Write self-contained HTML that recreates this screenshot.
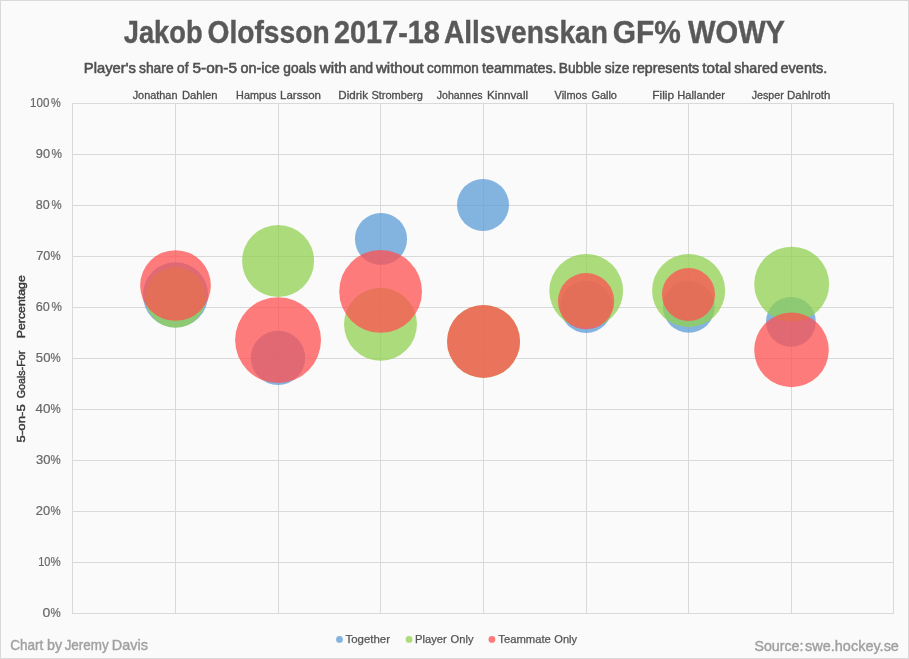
<!DOCTYPE html>
<html lang="en"><head><meta charset="utf-8"><title>Jakob Olofsson 2017-18 Allsvenskan GF% WOWY</title>
<style>
html,body{margin:0;padding:0;background:#fafafa;}
body{width:909px;height:659px;overflow:hidden;}
svg{display:block;}
text{font-family:"Liberation Sans",sans-serif;}
.title{font-weight:bold;font-size:30.5px;fill:#595959;stroke:#595959;stroke-width:0.4px;}
.sub{font-size:14.2px;fill:#505050;stroke:#505050;stroke-width:0.55px;}
.cat{font-size:11px;fill:#4d4d4d;stroke:#4d4d4d;stroke-width:0.3px;}
.tick{font-size:11.9px;fill:#686868;stroke:#686868;stroke-width:0.2px;}
.ytitle{font-size:11.3px;fill:#3a3a3a;stroke:#3a3a3a;stroke-width:0.45px;}
.leg{font-size:11px;fill:#555;stroke:#555;stroke-width:0.25px;}
.foot{font-size:14.3px;fill:#a0a0a0;stroke:#a0a0a0;stroke-width:0.4px;}
</style></head><body>
<svg width="909" height="659" viewBox="0 0 909 659">
<rect x="0" y="0" width="909" height="659" fill="#fafafa"/>
<rect x="0.5" y="0.5" width="908" height="658" fill="none" stroke="#d9d9d9" stroke-width="1" shape-rendering="crispEdges"/>
<g stroke="#d9d9d9" stroke-width="1" shape-rendering="crispEdges">
<line x1="72" x2="894" y1="103.5" y2="103.5"/>
<line x1="72" x2="894" y1="154.5" y2="154.5"/>
<line x1="72" x2="894" y1="205.5" y2="205.5"/>
<line x1="72" x2="894" y1="256.5" y2="256.5"/>
<line x1="72" x2="894" y1="307.5" y2="307.5"/>
<line x1="72" x2="894" y1="358.5" y2="358.5"/>
<line x1="72" x2="894" y1="409.5" y2="409.5"/>
<line x1="72" x2="894" y1="460.5" y2="460.5"/>
<line x1="72" x2="894" y1="511.5" y2="511.5"/>
<line x1="72" x2="894" y1="562.5" y2="562.5"/>
<line x1="72" x2="894" y1="613.5" y2="613.5"/>
<line x1="72.5" x2="72.5" y1="103" y2="614"/>
<line x1="175.5" x2="175.5" y1="103" y2="614"/>
<line x1="278.5" x2="278.5" y1="103" y2="614"/>
<line x1="380.5" x2="380.5" y1="103" y2="614"/>
<line x1="483.5" x2="483.5" y1="103" y2="614"/>
<line x1="586.5" x2="586.5" y1="103" y2="614"/>
<line x1="688.5" x2="688.5" y1="103" y2="614"/>
<line x1="791.5" x2="791.5" y1="103" y2="614"/>
<line x1="893.5" x2="893.5" y1="103" y2="614"/>
</g>
<g fill="#5b9bd5" fill-opacity="0.75">
<circle cx="175.5" cy="294.9" r="32.6"/>
<circle cx="278.0" cy="357.9" r="27.15"/>
<circle cx="381.0" cy="239.0" r="26.1"/>
<circle cx="483.0" cy="204.9" r="26.0"/>
<circle cx="586.2" cy="306.9" r="26.0"/>
<circle cx="688.8" cy="306.9" r="25.9"/>
<circle cx="790.9" cy="321.8" r="24.9"/>
</g>
<g fill="#92d050" fill-opacity="0.75">
<circle cx="175.5" cy="297.4" r="30.3"/>
<circle cx="278.1" cy="261.05" r="36.0"/>
<circle cx="380.5" cy="324.3" r="36.45"/>
<circle cx="483.55" cy="341.4" r="36.5"/>
<circle cx="586.2" cy="290.85" r="36.9"/>
<circle cx="688.6" cy="290.6" r="36.55"/>
<circle cx="791.7" cy="284.2" r="37.45"/>
</g>
<g fill="#ff5050" fill-opacity="0.75">
<circle cx="175.5" cy="285.5" r="35.35"/>
<circle cx="278.05" cy="340.1" r="42.95"/>
<circle cx="380.6" cy="291.4" r="41.4"/>
<circle cx="483.55" cy="341.4" r="36.5"/>
<circle cx="586.1" cy="301.2" r="28.1"/>
<circle cx="688.5" cy="294.5" r="26.5"/>
<circle cx="791.5" cy="349.9" r="37.3"/>
</g>
<text class="title" y="42.7"><tspan x="123.79" textLength="78.74" lengthAdjust="spacingAndGlyphs">Jakob</tspan> <tspan x="207.55" textLength="122.06" lengthAdjust="spacingAndGlyphs">Olofsson</tspan> <tspan x="334.06" textLength="105.81" lengthAdjust="spacingAndGlyphs">2017-18</tspan> <tspan x="443.92" textLength="164.00" lengthAdjust="spacingAndGlyphs">Allsvenskan</tspan> <tspan x="612.87" textLength="68.06" lengthAdjust="spacingAndGlyphs">GF%</tspan> <tspan x="688.05" textLength="96.95" lengthAdjust="spacingAndGlyphs">WOWY</tspan></text>
<text class="sub" y="72.9"><tspan x="83.84" textLength="52.03" lengthAdjust="spacingAndGlyphs">Player's</tspan> <tspan x="138.98" textLength="34.65" lengthAdjust="spacingAndGlyphs">share</tspan> <tspan x="177.12" textLength="11.42" lengthAdjust="spacingAndGlyphs">of</tspan> <tspan x="192.59" textLength="44.38" lengthAdjust="spacingAndGlyphs">5-on-5</tspan> <tspan x="240.53" textLength="39.24" lengthAdjust="spacingAndGlyphs">on-ice</tspan> <tspan x="283.31" textLength="32.81" lengthAdjust="spacingAndGlyphs">goals</tspan> <tspan x="319.84" textLength="26.96" lengthAdjust="spacingAndGlyphs">with</tspan> <tspan x="349.57" textLength="23.47" lengthAdjust="spacingAndGlyphs">and</tspan> <tspan x="375.96" textLength="47.68" lengthAdjust="spacingAndGlyphs">without</tspan> <tspan x="427.12" textLength="51.69" lengthAdjust="spacingAndGlyphs">common</tspan> <tspan x="482.02" textLength="74.50" lengthAdjust="spacingAndGlyphs">teammates.</tspan> <tspan x="558.74" textLength="42.70" lengthAdjust="spacingAndGlyphs">Bubble</tspan> <tspan x="604.85" textLength="24.53" lengthAdjust="spacingAndGlyphs">size</tspan> <tspan x="632.24" textLength="66.96" lengthAdjust="spacingAndGlyphs">represents</tspan> <tspan x="702.39" textLength="28.64" lengthAdjust="spacingAndGlyphs">total</tspan> <tspan x="734.22" textLength="43.69" lengthAdjust="spacingAndGlyphs">shared</tspan> <tspan x="780.59" textLength="46.62" lengthAdjust="spacingAndGlyphs">events.</tspan></text>
<text class="cat" y="98.6"><tspan x="132.65" textLength="44.81" lengthAdjust="spacingAndGlyphs">Jonathan</tspan> <tspan x="181.93" textLength="35.62" lengthAdjust="spacingAndGlyphs">Dahlen</tspan> <tspan x="236.11" textLength="40.37" lengthAdjust="spacingAndGlyphs">Hampus</tspan> <tspan x="280.03" textLength="40.91" lengthAdjust="spacingAndGlyphs">Larsson</tspan> <tspan x="338.38" textLength="29.63" lengthAdjust="spacingAndGlyphs">Didrik</tspan> <tspan x="371.40" textLength="51.40" lengthAdjust="spacingAndGlyphs">Stromberg</tspan> <tspan x="436.83" textLength="45.74" lengthAdjust="spacingAndGlyphs">Johannes</tspan> <tspan x="487.07" textLength="41.03" lengthAdjust="spacingAndGlyphs">Kinnvall</tspan> <tspan x="554.58" textLength="32.59" lengthAdjust="spacingAndGlyphs">Vilmos</tspan> <tspan x="591.38" textLength="25.58" lengthAdjust="spacingAndGlyphs">Gallo</tspan> <tspan x="652.24" textLength="21.82" lengthAdjust="spacingAndGlyphs">Filip</tspan> <tspan x="677.35" textLength="47.50" lengthAdjust="spacingAndGlyphs">Hallander</tspan> <tspan x="751.67" textLength="32.06" lengthAdjust="spacingAndGlyphs">Jesper</tspan> <tspan x="787.06" textLength="43.32" lengthAdjust="spacingAndGlyphs">Dahlroth</tspan></text>
<text class="tick" y="106.6"><tspan x="30.10" textLength="19.35" lengthAdjust="spacingAndGlyphs">100</tspan><tspan x="50.93" textLength="9.72" lengthAdjust="spacingAndGlyphs">%</tspan></text>
<text class="tick" y="157.6"><tspan x="35.80" textLength="14.20" lengthAdjust="spacingAndGlyphs">90</tspan><tspan x="51.45" textLength="10.46" lengthAdjust="spacingAndGlyphs">%</tspan></text>
<text class="tick" y="208.6"><tspan x="35.75" textLength="13.92" lengthAdjust="spacingAndGlyphs">80</tspan><tspan x="51.61" textLength="10.09" lengthAdjust="spacingAndGlyphs">%</tspan></text>
<text class="tick" y="259.6"><tspan x="36.32" textLength="14.04" lengthAdjust="spacingAndGlyphs">70</tspan><tspan x="50.57" textLength="10.18" lengthAdjust="spacingAndGlyphs">%</tspan></text>
<text class="tick" y="310.6"><tspan x="35.76" textLength="14.03" lengthAdjust="spacingAndGlyphs">60</tspan><tspan x="51.58" textLength="10.36" lengthAdjust="spacingAndGlyphs">%</tspan></text>
<text class="tick" y="361.6"><tspan x="35.87" textLength="14.63" lengthAdjust="spacingAndGlyphs">50</tspan><tspan x="50.57" textLength="10.18" lengthAdjust="spacingAndGlyphs">%</tspan></text>
<text class="tick" y="412.6"><tspan x="35.60" textLength="14.91" lengthAdjust="spacingAndGlyphs">40</tspan><tspan x="50.57" textLength="10.18" lengthAdjust="spacingAndGlyphs">%</tspan></text>
<text class="tick" y="463.6"><tspan x="36.00" textLength="14.51" lengthAdjust="spacingAndGlyphs">30</tspan><tspan x="50.57" textLength="10.18" lengthAdjust="spacingAndGlyphs">%</tspan></text>
<text class="tick" y="514.6"><tspan x="35.82" textLength="14.41" lengthAdjust="spacingAndGlyphs">20</tspan><tspan x="50.57" textLength="10.18" lengthAdjust="spacingAndGlyphs">%</tspan></text>
<text class="tick" y="565.6"><tspan x="38.20" textLength="12.22" lengthAdjust="spacingAndGlyphs">10</tspan><tspan x="50.57" textLength="10.18" lengthAdjust="spacingAndGlyphs">%</tspan></text>
<text class="tick" y="616.6"><tspan x="42.63" textLength="7.80" lengthAdjust="spacingAndGlyphs">0</tspan><tspan x="50.57" textLength="10.18" lengthAdjust="spacingAndGlyphs">%</tspan></text>
<g transform="translate(24.7,441.8) rotate(-90)"><text class="ytitle" y="0"><tspan x="-0.60" textLength="38.18" lengthAdjust="spacingAndGlyphs">5-on-5</tspan> <tspan x="43.59" textLength="47.55" lengthAdjust="spacingAndGlyphs">Goals-For</tspan> <tspan x="103.57" textLength="62.98" lengthAdjust="spacingAndGlyphs">Percentage</tspan></text></g>
<circle cx="339.5" cy="639.4" r="3.4" fill="#5b9bd5" fill-opacity="0.75"/><circle cx="409.05" cy="639.4" r="3.4" fill="#92d050" fill-opacity="0.75"/><circle cx="491.9" cy="639.4" r="3.4" fill="#ff5050" fill-opacity="0.75"/>
<text class="leg" y="642.8"><tspan x="345.47" textLength="44.48" lengthAdjust="spacingAndGlyphs">Together</tspan> <tspan x="415.11" textLength="31.71" lengthAdjust="spacingAndGlyphs">Player</tspan> <tspan x="450.60" textLength="22.85" lengthAdjust="spacingAndGlyphs">Only</tspan> <tspan x="498.32" textLength="52.55" lengthAdjust="spacingAndGlyphs">Teammate</tspan> <tspan x="554.39" textLength="22.73" lengthAdjust="spacingAndGlyphs">Only</tspan></text>
<text class="foot" y="649.8"><tspan x="10.23" textLength="33.09" lengthAdjust="spacingAndGlyphs">Chart</tspan> <tspan x="46.94" textLength="15.10" lengthAdjust="spacingAndGlyphs">by</tspan> <tspan x="64.63" textLength="43.99" lengthAdjust="spacingAndGlyphs">Jeremy</tspan> <tspan x="111.77" textLength="36.09" lengthAdjust="spacingAndGlyphs">Davis</tspan></text>
<text class="foot" y="650.6"><tspan x="754.42" textLength="48.94" lengthAdjust="spacingAndGlyphs">Source:</tspan> <tspan x="805.06" textLength="93.89" lengthAdjust="spacingAndGlyphs">swe.hockey.se</tspan></text>
</svg></body></html>
